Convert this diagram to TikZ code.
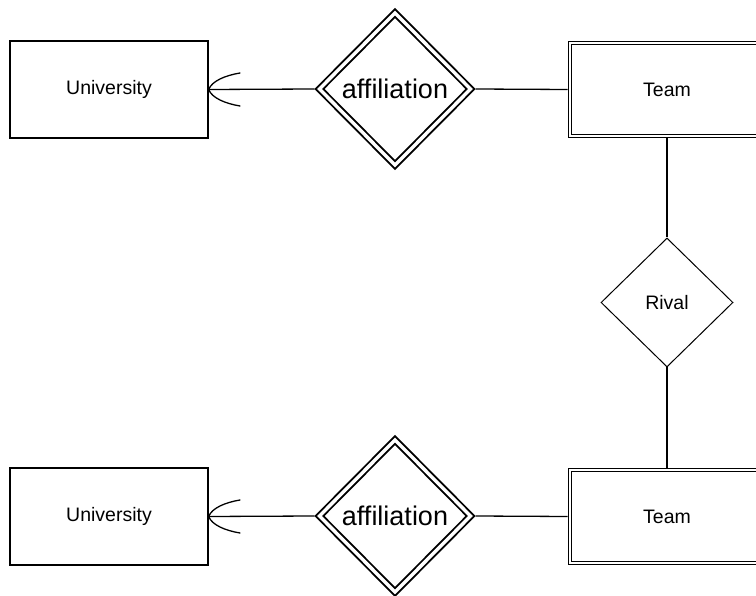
\documentclass[tikz,border=0pt]{standalone}
\usepackage{fontspec}
\setmainfont{Liberation Sans}
\usetikzlibrary{shapes.geometric}
\begin{document}
\begin{tikzpicture}[x=1pt,y=-1pt,
  entity/.style={draw, rectangle, line width=1.3pt, minimum width=198pt, minimum height=97pt,
    inner sep=0pt, font=\fontsize{19.5}{22}\selectfont},
  weakentity/.style={draw, rectangle, double, line width=1.2pt, double distance=2.4pt,
    minimum width=194pt, minimum height=93pt, inner sep=0pt, outer sep=2.4pt,
    font=\fontsize{19.5}{22}\selectfont},
  idrel/.style={draw, diamond, double, line width=1.9pt, double distance=3.4pt,
    minimum width=154pt, minimum height=155pt, inner sep=0pt, outer sep=3.5pt,
    font=\fontsize{27}{30}\selectfont},
  rel/.style={draw, diamond, line width=1pt, minimum width=132pt, minimum height=129pt,
    inner sep=0pt, font=\fontsize{19.5}{22}\selectfont},
  conn/.style={line width=1.3pt},
  crow/.style={line width=1.3pt, line cap=round}]
\useasboundingbox (0,0) rectangle (756,596);
\clip (0,0) rectangle (756,596);

% entities and relationships
\node[entity] (uni1) at (109,89.5) {University};
\node[entity] (uni2) at (109,516.5) {University};
\node[idrel] (aff1) at (395,89) {affiliation};
\node[idrel] (aff2) at (395,516) {affiliation};
\node[weakentity] (team1) at (667,89.5) {Team};
\node[weakentity] (team2) at (667,516.5) {Team};
\node[rel] (rival) at (667,302.5) {Rival};

% connectors
\draw[conn] (uni1.east) -- (aff1.west);
\draw[conn] (aff1.east) -- (team1.west);
\draw[conn] (uni2.east) -- (aff2.west);
\draw[conn] (aff2.east) -- (team2.west);
\draw[conn] (team1.south) -- (rival.north);
\draw[conn] (rival.south) -- (team2.north);

% crow's feet at the University ends
\coordinate (cfa1) at (240,73);
\coordinate (cfb1) at (240,106);
\coordinate (cfa2) at (240,500);
\coordinate (cfb2) at (240,533);
\draw[crow] (uni1.east) .. controls (212,81) and (225,75.5) .. (cfa1);
\draw[crow] (uni1.east) .. controls (212,98) and (225,103.5) .. (cfb1);
\draw[crow] (uni2.east) .. controls (212,508) and (225,502.5) .. (cfa2);
\draw[crow] (uni2.east) .. controls (212,525) and (225,530.5) .. (cfb2);
\end{tikzpicture}
\end{document}
